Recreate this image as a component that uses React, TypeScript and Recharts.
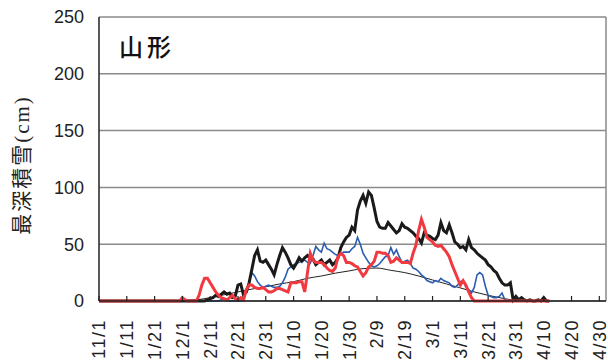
import { CartesianGrid, Line, LineChart, ReferenceLine, XAxis, YAxis } from "recharts";

// days counted from 11/1, one tick every 10 days
const dayTicks = [0, 10, 20, 30, 40, 50, 60, 70, 80, 90, 100, 110, 120, 130, 140, 150, 160, 170, 180];
const dayLabels = [
  "11/1", "11/11", "11/21", "12/1", "12/11", "12/21", "12/31", "1/10", "1/20", "1/30",
  "2/9", "2/19", "3/1", "3/11", "3/21", "3/31", "4/10", "4/20", "4/30",
];
const depthTicks = [0, 50, 100, 150, 200, 250];

// daily snow depth (cm), day 0 = 11/1
const blackDepth = [
  0, 0, 0, 0, 0, 0, 0, 0, 0, 0, 0, 0, 0, 0, 0, 0, 0, 0, 0, 0,
  0, 0, 0, 0, 0, 0, 0, 0, 0, 0, 0, 0, 0, 0, 0, 0, 0, 0, 0, 1,
  2, 3, 5, 4, 6, 8, 6, 7, 3, 4, 14, 15, 5, 8, 16, 28, 40, 45, 35, 34,
  36, 32, 28, 23, 32, 40, 47, 43, 38, 32, 29, 33, 38, 35, 38, 40, 38, 37, 32, 34,
  36, 32, 34, 36, 32, 34, 38, 47, 52, 56, 58, 65, 62, 80, 88, 93, 86, 96, 93, 82,
  70, 65, 64, 64, 69, 66, 63, 60, 62, 68, 65, 64, 62, 60, 57, 55, 51, 60, 58, 57,
  55, 54, 58, 69, 62, 60, 67, 60, 52, 50, 47, 48, 45, 54, 47, 45, 42, 40, 38, 36,
  32, 30, 27, 25, 20, 16, 14, 14, 16, 1, 4, 1, 3, 1, 0, 1, 0, 0, 1, 0,
  3, 0, 0,
];

const blueDepth = [
  0, 0, 0, 0, 0, 0, 0, 0, 0, 0, 0, 0, 0, 0, 0, 0, 0, 0, 0, 0,
  0, 0, 0, 0, 0, 0, 0, 0, 0, 0, 0, 0, 0, 0, 0, 0, 0, 0, 0, 0,
  0, 0, 0, 0, 1, 2, 1, 0, 0, 0, 0, 0, 3, 9, 16, 25, 22, 17, 14, 12,
  13, 14, 13, 12, 12, 13, 16, 21, 28, 30, 32, 33, 34, 35, 36, 34, 33, 40, 48, 45,
  43, 51, 46, 45, 43, 41, 40, 41, 43, 43, 43, 46, 48, 56, 50, 42, 38, 34, 31, 30,
  31, 33, 36, 39, 40, 47, 41, 45, 39, 34, 35, 36, 33, 29, 28, 26, 23, 21, 18, 17,
  16, 18, 17, 20, 18, 17, 16, 13, 12, 14, 17, 18, 12, 10, 7, 12, 23, 25, 23, 13,
  5, 4, 3, 3, 4, 7, 1, 0, 0, 0, 0, 0, 0, 0, 0, 0, 0, 0, 0, 0,
  0, 0, 0,
];

const redDepth = [
  0, 0, 0, 0, 0, 0, 0, 0, 0, 0, 0, 0, 0, 0, 0, 0, 0, 0, 0, 0,
  0, 0, 0, 0, 0, 0, 0, 0, 0, 0, 3, 1, 0, 0, 0, 0, 5, 14, 20, 20,
  16, 12, 8, 5, 3, 2, 1, 3, 5, 2, 1, 3, 1, 10, 14, 14, 12, 11, 11, 12,
  10, 8, 8, 9, 11, 11, 10, 9, 8, 16, 16, 16, 17, 17, 8, 25, 42, 36, 34, 34,
  34, 32, 29, 27, 26, 29, 39, 42, 40, 34, 34, 33, 31, 30, 26, 22, 25, 30, 32, 35,
  43, 43, 42, 42, 40, 34, 35, 38, 36, 34, 34, 34, 33, 42, 49, 62, 72, 65, 56, 54,
  52, 49, 48, 49, 46, 43, 39, 32, 26, 20, 14, 18, 14, 8, 3, 0, 0, 0, 0, 0,
  0, 0, 0, 0, 0, 0, 0, 0, 0, 0, 0, 0, 0, 0, 0, 0, 0, 0, 0, 0,
  0, 0, 0,
];

// normal depth, read every 5 days
const normalDays = [
  0, 5, 10, 15, 20, 25, 30, 35, 40, 45, 50, 55, 60, 65, 70, 75,
  80, 85, 90, 95, 100, 105, 110, 115, 120, 125, 130, 135, 140, 145, 150, 155,
];
const normalDepth = [
  0, 0, 0, 0, 0, 0, 0.5, 1, 3, 5.5, 8, 10.5, 12.5, 15, 17, 20,
  22, 24.5, 26.5, 28.5, 29, 27, 25, 22, 18.5, 15, 11.5, 8, 5, 2.5, 0.5, 0,
];

const rows = blackDepth.map((v, day) => {
  const n = normalDays.indexOf(day);
  return {
    day,
    black: v,
    blue: blueDepth[day],
    red: redDepth[day],
    normal: n >= 0 ? normalDepth[n] : undefined,
  };
});

const sans = '"Liberation Sans", Arial, sans-serif';
const xMax = 182.4;

function DayTick(props: any) {
  const { x, y, payload } = props;
  const label = dayLabels[dayTicks.indexOf(payload.value)];
  const ty = y + 18;
  return (
    <g>
      <line x1={x} y1={y} x2={x} y2={y - 5} stroke="#222" strokeWidth={1.2} />
      <text
        x={x}
        y={ty}
        transform={`rotate(-90 ${x} ${ty})`}
        textAnchor="end"
        dy="0.36em"
        fontSize={18}
        letterSpacing={1.5}
        fontFamily={sans}
        fill="#222"
      >
        {label}
      </text>
    </g>
  );
}

export default function App() {
  return (
    <div style={{ position: "absolute", left: 0, top: 0, width: 608, height: 360, background: "#fff" }}>
      <LineChart width={608} height={360} data={rows} margin={{ top: 17, right: 2, bottom: 58, left: 39 }}>
        <CartesianGrid vertical={false} stroke="#8a8a8a" strokeWidth={1.5} />
        <XAxis
          dataKey="day"
          type="number"
          domain={[0, xMax]}
          ticks={dayTicks}
          interval={0}
          height={1}
          tickLine={false}
          tickSize={0}
          tickMargin={0}
          tick={DayTick}
          stroke="#222"
          strokeWidth={1.5}
          allowDataOverflow
        />
        <YAxis
          type="number"
          domain={[0, 250]}
          ticks={depthTicks}
          interval={0}
          width={60}
          tickLine={false}
          tickSize={6}
          tickMargin={9}
          stroke="#222"
          strokeWidth={1.5}
          tick={{ fontSize: 18, fontFamily: sans, fill: "#222" }}
        />
        <ReferenceLine x={xMax} stroke="#8a8a8a" strokeWidth={1.5} />
        <Line
          dataKey="normal"
          type="monotone"
          stroke="#222"
          strokeWidth={1}
          dot={false}
          connectNulls
          isAnimationActive={false}
        />
        <Line dataKey="blue" type="linear" stroke="#2a5cb0" strokeWidth={1.6} dot={false} isAnimationActive={false} />
        <Line dataKey="black" type="linear" stroke="#1a1a1a" strokeWidth={3} dot={false} isAnimationActive={false} />
        <Line dataKey="red" type="linear" stroke="#f03a40" strokeWidth={3} dot={false} isAnimationActive={false} />
      </LineChart>
      <div
        style={{
          position: "absolute",
          left: 119,
          top: 34,
          fontSize: 24,
          fontFamily: '"Noto Sans CJK JP", sans-serif',
          fontWeight: 500,
          letterSpacing: 4,
          color: "#111",
          lineHeight: 1,
        }}
      >
        山形
      </div>
      <div
        style={{
          position: "absolute",
          left: 22,
          top: 165,
          transform: "translate(-50%, -50%) rotate(-90deg)",
          whiteSpace: "nowrap",
          fontSize: 21,
          fontFamily: '"Liberation Serif", "Noto Sans CJK JP", serif',
          letterSpacing: 2,
          color: "#222",
          lineHeight: 1,
        }}
      >
        最深積雪(cm)
      </div>
    </div>
  );
}
